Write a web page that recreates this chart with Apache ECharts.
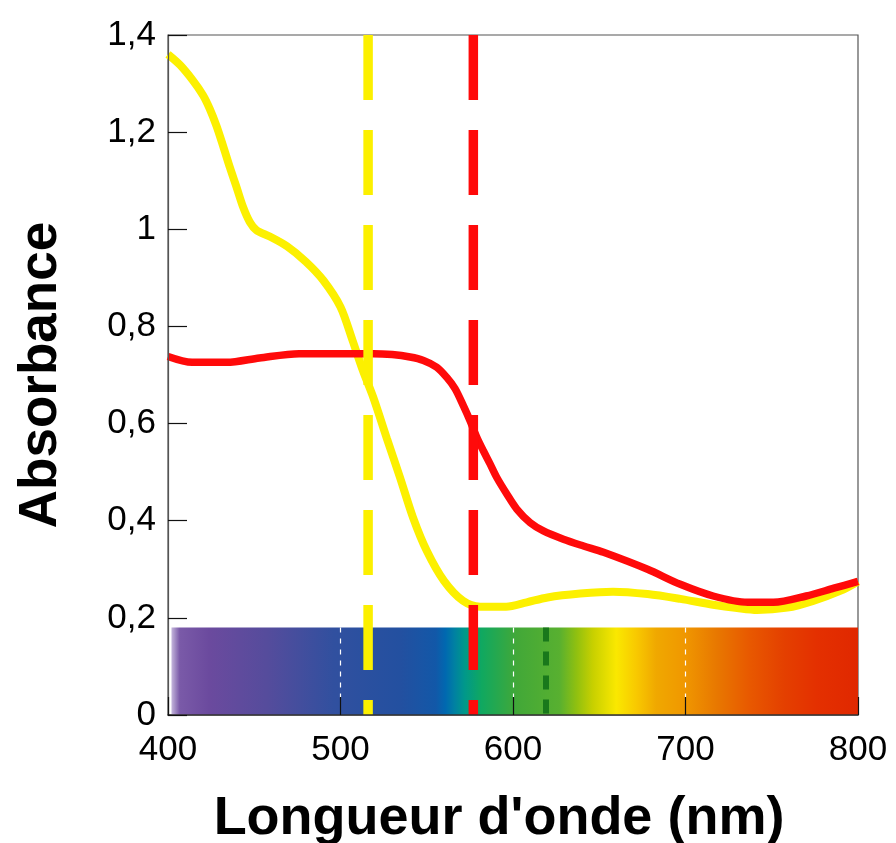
<!DOCTYPE html>
<html>
<head>
<meta charset="utf-8">
<script src="https://cdn.jsdelivr.net/npm/echarts@6/dist/echarts.min.js"></script>
<style>
html,body{margin:0;padding:0;background:#fff;}
#chart{width:896px;height:843px;}
</style>
</head>
<body>
<div id="chart"></div>
<script>
// ---- data ----
var yellowWavelengths = [400,407,414.5,420.3,424.2,428.1,431.9,435.8,439.7,443.5,447.4,451.3,459,469,480,490,500,507,513,519,527,534.5,542,550,560,571,581,596,608,620,639,658,678,697,716,730,741.5,759,774,790,800];
var yellowAbsorbance  = [1.360,1.338,1.306,1.276,1.248,1.213,1.172,1.128,1.087,1.046,1.015,0.998,0.985,0.965,0.933,0.895,0.840,0.771,0.709,0.654,0.568,0.489,0.407,0.338,0.276,0.235,0.223,0.223,0.232,0.242,0.250,0.254,0.249,0.239,0.227,0.220,0.216,0.221,0.235,0.256,0.275];

var redWavelengths = [400,414,434,453,476,500,519,530,540.3,548.1,555.8,561.6,566.4,571.2,575.1,579,582.8,586.7,590.6,596.4,602.2,609.9,617.6,629.2,640.9,652.5,678,697,716,736,751,770,786,800];
var redAbsorbance  = [0.738,0.726,0.726,0.735,0.744,0.744,0.744,0.742,0.737,0.730,0.716,0.695,0.672,0.637,0.606,0.572,0.544,0.517,0.489,0.455,0.424,0.396,0.379,0.362,0.348,0.335,0.300,0.269,0.245,0.232,0.232,0.245,0.261,0.275];

var markerWavelengths = [516, 577];          // dashed vertical lines (yellow, red)
var spectrumRange = [402, 800];               // visible spectrum band (nm)
var spectrumHeight = 0.18;                    // band top (absorbance units)
var spectrumGuides = [500, 600, 700];         // white dashed guides in the band
var spectrumDarkLine = 619;                   // dark green dashed line in the band
var xTickLabels = ['400','500','600','700','800'];
var yTickLabels = ['0','0,2','0,4','0,6','0,8','1','1,2','1,4'];

function pairs(xs, ys){ return xs.map(function(x,i){ return [x, ys[i]]; }); }

var FONT = "'Liberation Sans', Arial, Helvetica, sans-serif";
var chart = echarts.init(document.getElementById('chart'));

var spectrumGradient = new echarts.graphic.LinearGradient(0,0,1,0,[
  {offset:0,     color:'#c4b6dc'},
  {offset:0.012, color:'#7a5aa8'},
  {offset:0.055, color:'#6b4a9e'},
  {offset:0.14,  color:'#554c9c'},
  {offset:0.236, color:'#31509f'},
  {offset:0.334, color:'#2350a0'},
  {offset:0.385, color:'#1258a8'},
  {offset:0.399, color:'#0068b0'},
  {offset:0.412, color:'#0080a2'},
  {offset:0.427, color:'#00988a'},
  {offset:0.452, color:'#10a860'},
  {offset:0.503, color:'#42a838'},
  {offset:0.565, color:'#58b030'},
  {offset:0.590, color:'#90c010'},
  {offset:0.614, color:'#c8d000'},
  {offset:0.648, color:'#fae800'},
  {offset:0.678, color:'#f8c800'},
  {offset:0.706, color:'#f0a800'},
  {offset:0.746, color:'#f09800'},
  {offset:0.794, color:'#e87800'},
  {offset:0.843, color:'#e85800'},
  {offset:0.892, color:'#e44000'},
  {offset:0.940, color:'#e43000'},
  {offset:1,     color:'#e02800'}
]);

var guideLines = spectrumGuides.map(function(x){
  return [{coord:[x, spectrumHeight]}, {coord:[x, 0.036]}];
});
guideLines.push([
  {coord:[spectrumDarkLine, spectrumHeight], lineStyle:{color:'#0f6e18', width:6, type:[14,10], opacity:0.85}},
  {coord:[spectrumDarkLine, 0]}
]);

var markerColors = ['#fcf000', '#ff0a0a'];
var markerSeries = markerWavelengths.map(function(x, i){
  return {
    type:'line', z:5, silent:true, symbol:'none',
    data:[[x, 1.4],[x, 0]],
    lineStyle:{color:markerColors[i], width:9.5, type:[65,30], cap:'butt'}
  };
});

chart.setOption({
  animation:false,
  backgroundColor:'#fff',
  grid:{left:168, top:35, width:690, height:680, show:true, borderColor:'#555', borderWidth:1.2,
        containLabel:false, outerBoundsMode:'none'},
  xAxis:{
    type:'value', min:400, max:800, interval:100, z:10,
    axisLine:{show:true, onZero:false, lineStyle:{color:'#333', width:1.5}},
    axisTick:{show:true, inside:true, length:18, lineStyle:{color:'#111', width:1.2}},
    splitLine:{show:false},
    axisLabel:{fontFamily:FONT, fontSize:35, color:'#000', margin:18,
      formatter:function(v){ var i = Math.round((v-400)/100); return xTickLabels[i]; }},
    name:"Longueur d'onde (nm)", nameLocation:'middle', nameGap:77,
    nameTextStyle:{fontFamily:FONT, fontSize:54, fontWeight:'bold', color:'#000', padding:[0,28,0,0]}
  },
  yAxis:{
    type:'value', min:0, max:1.4, interval:0.2, z:10,
    axisLine:{show:true, onZero:false, lineStyle:{color:'#555', width:1.2}},
    axisTick:{show:true, inside:true, length:19, lineStyle:{color:'#111', width:1.2}},
    splitLine:{show:false},
    axisLabel:{fontFamily:FONT, fontSize:35, color:'#000', margin:12, padding:[0,0,16,0],
      formatter:function(v){ var i = Math.round(v/0.2); return yTickLabels[i]; }},
    name:'Absorbance', nameLocation:'middle', nameGap:100, nameRotate:90,
    nameTextStyle:{fontFamily:FONT, fontSize:53, fontWeight:'bold', color:'#000'}
  },
  series:[
    {
      type:'line', z:1, silent:true, symbol:'none', data:[],
      markArea:{silent:true, itemStyle:{color:spectrumGradient},
        data:[[{coord:[spectrumRange[0], spectrumHeight]},{coord:[spectrumRange[1], 0]}]]},
      markLine:{silent:true, symbol:'none', label:{show:false},
        lineStyle:{color:'#ffffff', width:1.2, type:[5,6]}, data:guideLines}
    },
    {
      type:'line', z:3, silent:true, symbol:'none', smooth:0.3,
      data:pairs(yellowWavelengths, yellowAbsorbance),
      lineStyle:{color:'#fcf000', width:8}
    },
    {
      type:'line', z:4, silent:true, symbol:'none', smooth:0.3,
      data:pairs(redWavelengths, redAbsorbance),
      lineStyle:{color:'#ff0a0a', width:7.5}
    }
  ].concat(markerSeries)
});
</script>
</body>
</html>
